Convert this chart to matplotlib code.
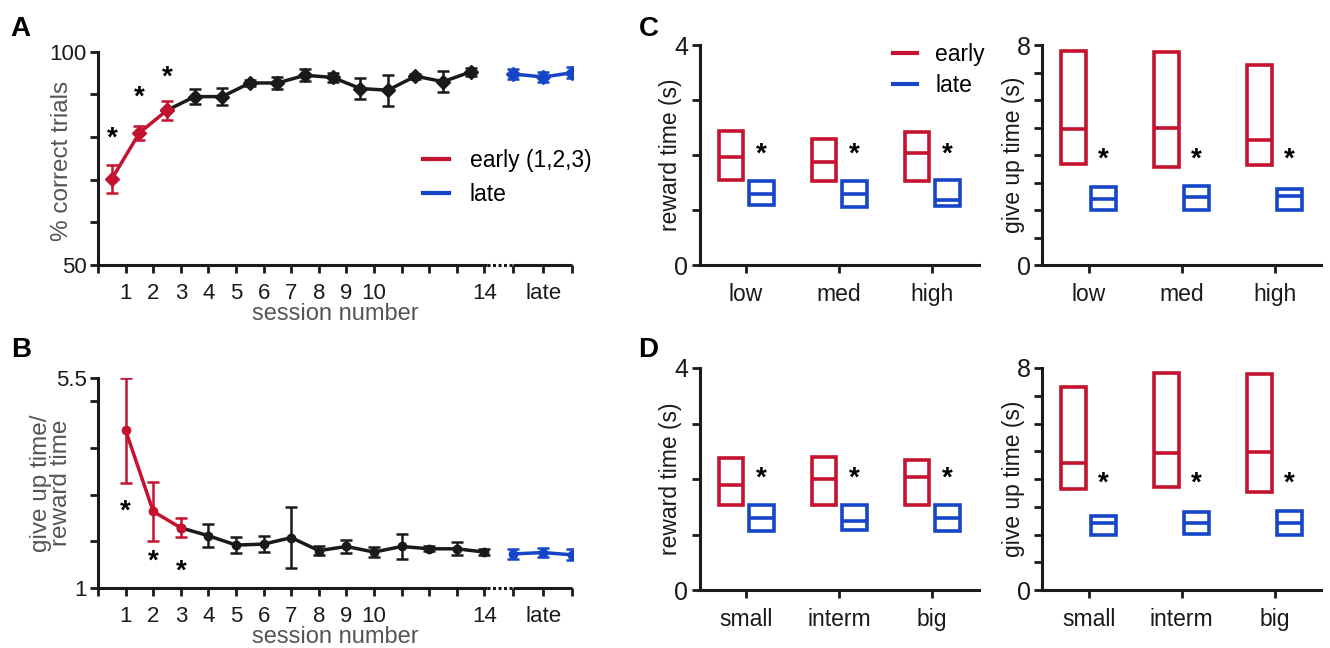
import matplotlib
matplotlib.use("Agg")
import matplotlib.pyplot as plt
import numpy as np

plt.rcParams['font.family'] = ['Liberation Sans', 'DejaVu Sans']

RED = '#C4122F'
BLUE = '#1645C8'
BLK = '#1a1a1a'
GREY = '#555555'

# ---------------- data ----------------
sessions = list(range(1, 15))
pct_correct = [70.2, 81.0, 86.3, 89.5, 89.5, 92.7, 92.7, 94.5, 94.0, 91.4, 91.0, 94.3, 93.0, 95.3]
pct_err = [3.3, 1.7, 2.2, 1.8, 2.0, 0.7, 1.3, 1.4, 1.0, 2.5, 3.6, 0.6, 2.5, 1.0]
pct_late = [94.8, 94.1, 95.1]
pct_late_err = [1.2, 1.2, 1.3]
pct_stars = [79.7, 89.2, 94.0]

ratio = [4.38, 2.64, 2.29, 2.12, 1.92, 1.94, 2.08, 1.80, 1.89, 1.77, 1.89, 1.84, 1.84, 1.77]
ratio_err = [1.13, 0.63, 0.20, 0.25, 0.17, 0.17, 0.65, 0.10, 0.14, 0.10, 0.27, 0.05, 0.14, 0.07]
ratio_late = [1.73, 1.76, 1.71]
ratio_late_err = [0.10, 0.10, 0.12]
ratio_stars = [2.64, 1.57, 1.35]

n_early = 3
late_pos = [15.04, 16.13, 17.18]

# panel C: reward value categories
cat_C = ['low', 'med', 'high']
C_rew_early = {'q1': [1.54, 1.53, 1.53], 'med': [1.97, 1.88, 2.03], 'q3': [2.44, 2.29, 2.41]}
C_rew_late = {'q1': [1.09, 1.06, 1.07], 'med': [1.30, 1.30, 1.18], 'q3': [1.52, 1.52, 1.55]}
C_giv_early = {'q1': [3.66, 3.56, 3.62], 'med': [4.94, 4.98, 4.56], 'q3': [7.79, 7.76, 7.29]}
C_giv_late = {'q1': [2.00, 2.00, 2.00], 'med': [2.40, 2.46, 2.52], 'q3': [2.82, 2.88, 2.76]}
C_rew_star = 2.0
C_giv_star = 3.85

# panel D: reward size categories
cat_D = ['small', 'interm', 'big']
D_rew_early = {'q1': [1.54, 1.54, 1.54], 'med': [1.90, 2.00, 2.04], 'q3': [2.37, 2.40, 2.35]}
D_rew_late = {'q1': [1.07, 1.08, 1.06], 'med': [1.29, 1.25, 1.30], 'q3': [1.54, 1.53, 1.53]}
D_giv_early = {'q1': [3.64, 3.70, 3.52], 'med': [4.56, 4.94, 4.96], 'q3': [7.30, 7.83, 7.79]}
D_giv_late = {'q1': [1.98, 2.02, 2.00], 'med': [2.40, 2.40, 2.42], 'q3': [2.65, 2.80, 2.86]}
D_rew_star = 2.0
D_giv_star = 3.83

# ---------------- figure ----------------
fig = plt.figure(figsize=(13.3, 6.48), dpi=100)

LW_SP = 2.2
TICK_FS = 16
LAB_FS = 16.5


def style_axes(ax):
    for s in ['top', 'right']:
        ax.spines[s].set_visible(False)
    for s in ['left', 'bottom']:
        ax.spines[s].set_linewidth(LW_SP)
        ax.spines[s].set_color(BLK)
    ax.tick_params(axis='both', direction='out', length=6, width=2, colors=BLK,
                   labelsize=TICK_FS, pad=2)


def session_panel(ax, xs, means, errs, late_means, late_errs, stars, marker, ylim, yticks, ylabels, ylab):
    style_axes(ax)
    ax.spines['bottom'].set_visible(False)
    xs = np.array(xs, dtype=float)
    means = np.array(means)
    errs = np.array(errs)
    ms = 6 if marker == 'o' else 7
    ax.errorbar(xs[n_early - 1:], means[n_early - 1:], yerr=None, color=BLK, lw=2.5,
                marker=marker, ms=ms, zorder=3)
    ax.errorbar(xs[n_early:], means[n_early:], yerr=errs[n_early:], fmt='none', ecolor=BLK,
                elinewidth=1.8, capsize=4, capthick=1.8, zorder=3)
    ax.errorbar(xs[:n_early], means[:n_early], yerr=errs[:n_early], color=RED, lw=2.5,
                marker=marker, ms=ms, elinewidth=1.8, capsize=4, capthick=1.8, zorder=4)
    ax.errorbar(late_pos, late_means, yerr=late_errs, color=BLUE, lw=2.5, marker=marker, ms=ms,
                elinewidth=1.8, capsize=4, capthick=1.8, zorder=4)
    for x, y in zip(xs[:n_early], stars):
        ax.text(x, y, '*', ha='center', va='center', fontsize=20, fontweight='bold', color='black')
    ax.set_xlim(0, late_pos[-1] + 0.02)
    ax.set_ylim(*ylim)
    ax.set_yticks(yticks)
    ax.set_yticklabels(ylabels)
    ticks = list(range(0, 15)) + late_pos
    ax.set_xticks(ticks)
    labs = [''] * len(ticks)
    for i, t in enumerate(ticks):
        if t in range(1, 11):
            labs[i] = str(int(t))
    labs[14] = '14'
    labs[16] = 'late'
    ax.set_xticklabels(labs)
    ax.tick_params(axis='x', pad=7)
    tr = ax.get_xaxis_transform()
    ax.plot([0, 14.1], [0, 0], color=BLK, lw=LW_SP, transform=tr, clip_on=False, solid_capstyle='butt')
    ax.plot([14.1, late_pos[0]], [0, 0], color=BLK, lw=LW_SP, ls=(0, (1, 0.8)), transform=tr,
            clip_on=False)
    ax.plot([late_pos[0], late_pos[-1]], [0, 0], color=BLK, lw=LW_SP, transform=tr, clip_on=False,
            solid_capstyle='butt')
    ax.set_xlabel('session number', fontsize=LAB_FS + 0.5, color=GREY, labelpad=-1)
    ax.set_ylabel(ylab, fontsize=LAB_FS + 1, color=GREY)


# Panel A
axA = fig.add_axes([0.0737, 0.591, 0.357, 0.329])
session_panel(axA, [s - 0.5 for s in sessions], pct_correct, pct_err, pct_late, pct_late_err,
              pct_stars, 'D', (50, 100), [50, 60, 70, 80, 90, 100],
              ['50', '', '', '', '', '100'], '% correct trials')
axA.yaxis.set_label_coords(-0.053, 0.49)
axA.plot([], [], color=RED, lw=3, label='early (1,2,3)')
axA.plot([], [], color=BLUE, lw=3, label='late')
axA.legend(loc='upper left', bbox_to_anchor=(0.665, 0.585), frameon=False, fontsize=16.5,
           handlelength=1.15, handletextpad=0.9, labelspacing=0.45, borderaxespad=0)

# Panel B
axB = fig.add_axes([0.0737, 0.0926, 0.357, 0.324])
session_panel(axB, sessions, ratio, ratio_err, ratio_late, ratio_late_err, ratio_stars, 'o',
              (1, 5.5), [1, 2, 3, 4, 5, 5.5], ['1', '', '', '', '', '5.5'],
              'give up time/\nreward time')
axB.yaxis.label.set_linespacing(0.85)
axB.yaxis.set_label_coords(-0.055, 0.5)


def box_panel(ax, cats, early, late, star_y, ylim_top, nticks, ylab):
    style_axes(ax)
    x = np.arange(len(cats))
    off = 0.163
    w = 0.265
    for d, c, o in [(early, RED, -off), (late, BLUE, off)]:
        q1 = np.array(d['q1'])
        q3 = np.array(d['q3'])
        ax.bar(x + o, q3 - q1, bottom=q1, width=w, fill=False, edgecolor=c, linewidth=2.6)
        ax.hlines(d['med'], x + o - w / 2, x + o + w / 2, color=c, lw=2.6)
    for xi in x:
        ax.text(xi + off, star_y, '*', ha='center', va='center', fontsize=20,
                fontweight='bold', color='black')
    ax.set_xlim(-0.5, 2.5)
    ax.set_ylim(0, ylim_top)
    yt = np.linspace(0, ylim_top, nticks)
    ax.set_yticks(yt)
    ax.set_yticklabels([str(int(ylim_top)) if v == ylim_top else ('0' if v == 0 else '') for v in yt])
    ax.tick_params(axis='y', labelsize=TICK_FS + 2)
    ax.set_xticks(x)
    ax.set_xticklabels(cats)
    ax.tick_params(axis='x', pad=7, labelsize=LAB_FS)
    ax.set_ylabel(ylab, fontsize=LAB_FS, color=BLK)
    ax.yaxis.set_label_coords(-0.062, 0.5)


axC1 = fig.add_axes([0.526, 0.591, 0.2098, 0.3395])
box_panel(axC1, cat_C, C_rew_early, C_rew_late, C_rew_star, 4, 5, 'reward time (s)')
axC1.plot([], [], color=RED, lw=3, label='early')
axC1.plot([], [], color=BLUE, lw=3, label='late')
axC1.legend(loc='upper left', bbox_to_anchor=(0.66, 1.05), frameon=False, fontsize=16.5,
            handlelength=1.05, handletextpad=0.8, labelspacing=0.35, borderaxespad=0)
axC2 = fig.add_axes([0.7835, 0.591, 0.2098, 0.3395])
box_panel(axC2, cat_C, C_giv_early, C_giv_late, C_giv_star, 8, 9, 'give up time (s)')

axD1 = fig.add_axes([0.526, 0.0895, 0.2098, 0.3426])
box_panel(axD1, cat_D, D_rew_early, D_rew_late, D_rew_star, 4, 5, 'reward time (s)')
axD2 = fig.add_axes([0.7835, 0.0895, 0.2098, 0.3426])
box_panel(axD2, cat_D, D_giv_early, D_giv_late, D_giv_star, 8, 9, 'give up time (s)')

for lbl, (x, y) in {'A': (0.008, 0.955), 'B': (0.008, 0.46), 'C': (0.48, 0.955),
                    'D': (0.48, 0.46)}.items():
    fig.text(x, y, lbl, fontsize=20, fontweight='bold', ha='left', va='center')

fig.savefig('out.png', dpi=100)
